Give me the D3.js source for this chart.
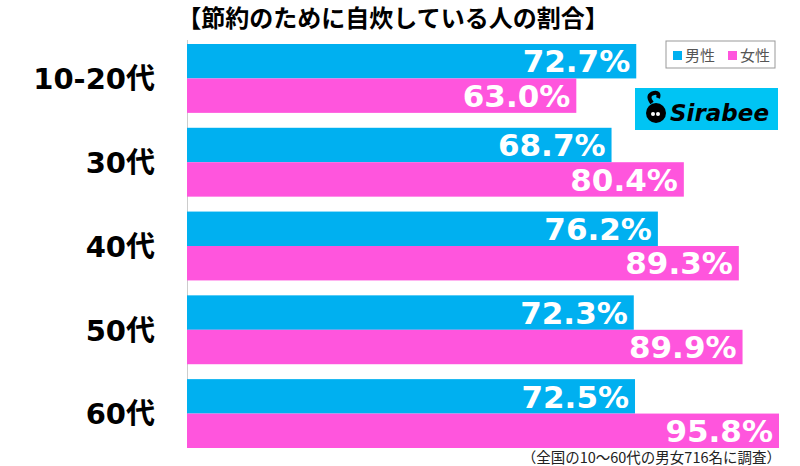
<!DOCTYPE html>
<html lang="ja">
<head>
<meta charset="UTF-8">
<title>節約のために自炊している人の割合</title>
<script src="https://cdn.jsdelivr.net/npm/d3@7"></script>
<style>
  body { margin: 0; background: #fff; }
  text { font-family: "DejaVu Sans", "Noto Sans CJK JP", sans-serif; }
</style>
</head>
<body>
<div id="chart"></div>
<script>
var categories = ["10-20代", "30代", "40代", "50代", "60代"];
var male = [72.7, 68.7, 76.2, 72.3, 72.5];
var female = [63.0, 80.4, 89.3, 89.9, 95.8];
var seriesNames = ["男性", "女性"];
var colors = ["#00b0f0", "#ff55dd"];

var width = 800, height = 466;
var svg = d3.select("#chart").append("svg")
    .attr("width", width)
    .attr("height", height);

var x = d3.scaleLinear().domain([0, 95.8]).range([187, 779]);
var y = d3.scaleBand().domain(categories).range([44, 448]).paddingInner(0.178).paddingOuter(0);

// 縦軸の線
svg.append("line")
    .attr("x1", 187.5).attr("x2", 187.5)
    .attr("y1", 40).attr("y2", 448)
    .attr("stroke", "#ccc").attr("stroke-width", 1);

var bh = y.bandwidth() / 2;

[male, female].forEach(function (vals, s) {
  svg.selectAll(".bar" + s)
      .data(vals)
      .enter().append("rect")
      .attr("x", x(0))
      .attr("y", function (d, i) { return y(categories[i]) + s * bh; })
      .attr("width", function (d) { return x(d) - x(0); })
      .attr("height", bh)
      .attr("fill", colors[s]);

  svg.selectAll(".val" + s)
      .data(vals)
      .enter().append("text")
      .attr("x", function (d) { return x(d) - 6; })
      .attr("y", function (d, i) { return y(categories[i]) + s * bh + bh / 2; })
      .attr("dy", "0.36em")
      .attr("text-anchor", "end")
      .attr("fill", "#fff")
      .attr("font-size", 31)
      .attr("font-weight", "bold")
      .text(function (d) { return d.toFixed(1) + "%"; });
});

// カテゴリ名
svg.selectAll(".cat")
    .data(categories)
    .enter().append("text")
    .attr("x", 155)
    .attr("y", function (d) { return y(d) + y.bandwidth() / 2; })
    .attr("dy", "0.37em")
    .attr("text-anchor", "end")
    .attr("font-size", 29)
    .attr("font-weight", "bold")
    .attr("fill", "#000")
    .text(function (d) { return d; });

// タイトル
svg.append("text")
    .attr("x", 393).attr("y", 27)
    .attr("text-anchor", "middle")
    .attr("font-size", 24)
    .attr("font-weight", "bold")
    .style("font-family", "'Noto Sans CJK JP', sans-serif")
    .text("【節約のために自炊している人の割合】");

// 凡例
var leg = svg.append("g").attr("transform", "translate(666,41)");
leg.append("rect").attr("width", 109).attr("height", 27)
    .attr("fill", "#fff").attr("stroke", "#999");
seriesNames.forEach(function (n, i) {
  var g = leg.append("g").attr("transform", "translate(" + (7 + i * 55) + ",0)");
  g.append("rect").attr("x", 0).attr("y", 10).attr("width", 9).attr("height", 9).attr("fill", colors[i]);
  g.append("text").attr("x", 12).attr("y", 20)
      .attr("font-size", 15).attr("fill", "#555")
      .style("font-family", "'Noto Sans CJK JP', sans-serif")
      .text(n);
});

// ロゴ
var logo = svg.append("g").attr("transform", "translate(635,88)");
logo.append("rect").attr("width", 143).attr("height", 42).attr("fill", "#00c4f4");
logo.append("circle").attr("cx", 21).attr("cy", 25).attr("r", 10).attr("fill", "#000");
logo.append("path").attr("d", "M17,15 Q11,7 19,5 Q25,4 23,10").attr("fill", "none").attr("stroke", "#000").attr("stroke-width", 4);
logo.append("circle").attr("cx", 18).attr("cy", 26).attr("r", 2).attr("fill", "#fff");
logo.append("circle").attr("cx", 23).attr("cy", 26).attr("r", 2).attr("fill", "#fff");
logo.append("text").attr("x", 35).attr("y", 33)
    .attr("font-size", 23).attr("font-weight", "bold").attr("font-style", "italic")
    .attr("fill", "#000")
    .text("Sirabee");

// 注記
svg.append("text")
    .attr("x", 781).attr("y", 463)
    .attr("text-anchor", "end")
    .attr("font-size", 14.5)
    .attr("fill", "#222")
    .style("font-family", "'Noto Sans CJK JP', sans-serif")
    .text("（全国の10～60代の男女716名に調査）");
</script>
</body>
</html>
